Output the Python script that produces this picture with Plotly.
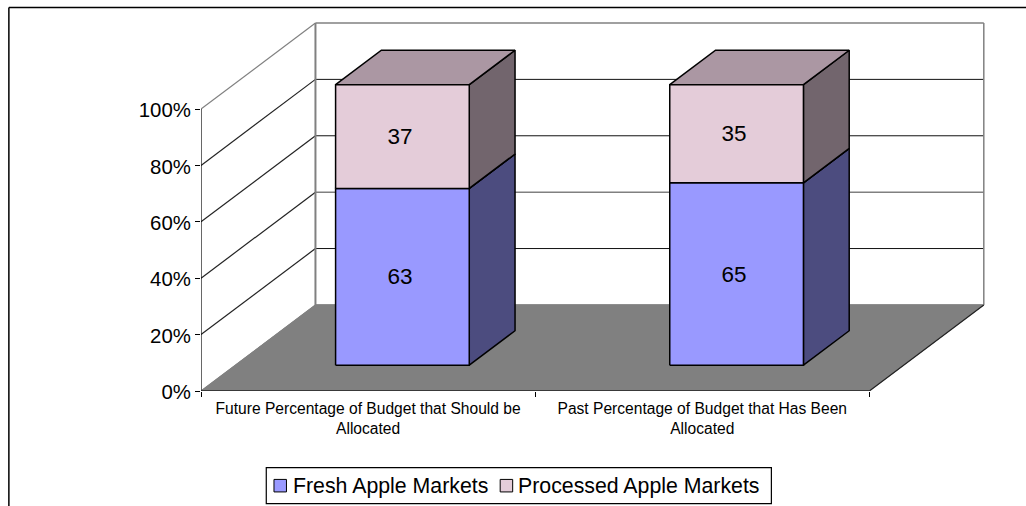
import plotly.graph_objects as go

categories = ["Future Percentage of Budget that Should be<br>Allocated",
              "Past Percentage of Budget that Has Been<br>Allocated"]
series_names = ["Fresh Apple Markets", "Processed Apple Markets"]
fresh = [63, 65]
processed = [37, 35]
y_ticks = [0, 20, 40, 60, 80, 100]
y_tick_labels = ["0%", "20%", "40%", "60%", "80%", "100%"]

W, H = 1026, 506
LEFT, RIGHT = 200.7, 990.0
BOTTOM, TOP = 390.7, 20.0
CAT_PX = 334.3
PCT_PX = 2.817
DEPTH_X = 114.5 / CAT_PX
DEPTH_Y = 86 / PCT_PX
BAR_START, BAR_END = 0.3, 0.7
BAR_SCALE = 0.995
pw, ph = RIGHT - LEFT, BOTTOM - TOP


def paper_x(p):
    return (p - LEFT) / pw


def paper_y(p):
    return (BOTTOM - p) / ph


def proj(cat, pct, depth):
    return cat + depth * DEPTH_X, pct + depth * DEPTH_Y


def poly(points, fill, line="black", width=1.5):
    xs, ys = zip(*[proj(*p) for p in points])
    closed = fill is not None
    return go.Scatter(
        x=list(xs) + ([xs[0]] if closed else []),
        y=list(ys) + ([ys[0]] if closed else []),
        mode="lines", fill="toself" if closed else None, fillcolor=fill,
        line=dict(color=line, width=width), showlegend=False, hoverinfo="skip",
    )


fig = go.Figure()
GRAY = "#808080"
n = len(categories)
# floor
fig.add_trace(poly([(0, 0, 0), (n, 0, 0), (n, 0, 1), (0, 0, 1)], GRAY, line=GRAY, width=1))
# walls and gridlines
for t in y_ticks:
    side_c = GRAY if t in (0, 100) else "#222222"
    back_c = GRAY if t in (0, 40, 100) else "#111111"
    back_w = 1.5 if t in (0, 40, 100) else 1
    fig.add_trace(poly([(0, t, 0), (0, t, 1)], None, line=side_c, width=1.2))
    fig.add_trace(poly([(0, t, 1), (n, t, 1)], None, line=back_c, width=back_w))
fig.add_trace(poly([(0, 0, 1), (0, 100, 1)], None, line=GRAY, width=2))
fig.add_trace(poly([(n, 0, 1), (n, 100, 1)], None, line=GRAY, width=1.5))
fig.add_trace(poly([(n, 0, 0), (n, 0, 1)], None, line="#222222", width=1.2))
# axes
fig.add_trace(poly([(0, 0, 0), (0, 100, 0)], None, line="black", width=1.2))
fig.add_trace(poly([(0, 0, 0), (n, 0, 0)], None, line="#222222", width=1.5))

styles = [
    dict(front="#9999FF", side="#4C4C7F", top="#4C4C7F"),
    dict(front="#E4CCD9", side="#72656D", top="#AB97A3"),
]
labels_x, labels_y, labels_t = [], [], []
for i in range(n):
    a = i + (1 - (BAR_END - BAR_START)) / 2
    b = a + (BAR_END - BAR_START)
    base = 0
    for vals, st in zip((fresh, processed), styles):
        v = vals[i]
        lo, hi = base * BAR_SCALE, (base + v) * BAR_SCALE
        fig.add_trace(poly([(b, lo, BAR_START), (b, lo, BAR_END), (b, hi, BAR_END), (b, hi, BAR_START)], st["side"]))
        fig.add_trace(poly([(a, hi, BAR_START), (b, hi, BAR_START), (b, hi, BAR_END), (a, hi, BAR_END)], st["top"]))
        fig.add_trace(poly([(a, lo, BAR_START), (b, lo, BAR_START), (b, hi, BAR_START), (a, hi, BAR_START)], st["front"]))
        x, y = proj((a + b) / 2, (lo + hi) / 2, BAR_START)
        labels_x.append(x - 2.5 / CAT_PX)
        labels_y.append(y - 2.0 / PCT_PX)
        labels_t.append(str(v))
        base += v

fig.add_trace(go.Scatter(x=labels_x, y=labels_y, text=labels_t, mode="text",
                         textfont=dict(family="Liberation Sans", size=22.5, color="black"),
                         showlegend=False, hoverinfo="skip"))

# legend (box, swatches and entries)
swatch_left = [273.7, 500]
SWATCH = 12.5
text_px = [292, 517]
LEG_Y = 485.3
annotations = [dict(x=paper_x(p), y=paper_y(LEG_Y), xref="paper", yref="paper", text=name,
                    showarrow=False, xanchor="left", yanchor="middle", borderpad=0,
                    font=dict(family="Liberation Sans", size=21.3, color="black"))
               for p, name in zip(text_px, series_names)]
swatches = [dict(type="rect", xref="paper", yref="paper",
                 x0=paper_x(p), x1=paper_x(p + SWATCH),
                 y0=paper_y(LEG_Y - SWATCH / 2), y1=paper_y(LEG_Y + SWATCH / 2),
                 line=dict(color="black", width=1), fillcolor=st["front"])
            for p, st in zip(swatch_left, styles)]

fig.update_layout(
    width=W, height=H, paper_bgcolor="white", plot_bgcolor="rgba(0,0,0,0)",
    margin=dict(l=LEFT, r=W - RIGHT, t=TOP, b=H - BOTTOM, pad=0, autoexpand=False),
    font=dict(family="Liberation Sans", color="black"),
    showlegend=False,
    annotations=annotations,
    xaxis=dict(range=[0, pw / CAT_PX], showgrid=False, zeroline=False, showline=False,
               tickvals=[0.5, 1.5], ticktext=categories, ticklen=0, ticks="",
               tickangle=0, tickfont=dict(size=15.6), ticklabelstandoff=6,
               minor=dict(tickmode="array", tickvals=[0, 1, 2], ticks="outside", ticklen=5,
                          tickcolor="black", tickwidth=1, showgrid=False)),
    yaxis=dict(range=[0, ph / PCT_PX], showgrid=False, zeroline=False, showline=False,
               tickvals=y_ticks, ticktext=y_tick_labels, ticks="outside", ticklen=5,
               tickcolor="black", tickwidth=1, tickfont=dict(size=20.4), ticklabelshift=1),
    shapes=[
        dict(type="line", xref="paper", yref="paper", x0=paper_x(8.5), x1=paper_x(1030),
             y0=paper_y(7.5), y1=paper_y(7.5), line=dict(color="black", width=1.5)),
        dict(type="line", xref="paper", yref="paper", x0=paper_x(8.5), x1=paper_x(8.5),
             y0=paper_y(7.5), y1=paper_y(520), line=dict(color="black", width=1.5)),
        dict(type="rect", xref="paper", yref="paper", x0=paper_x(266), x1=paper_x(771.3),
             y0=paper_y(467.3), y1=paper_y(503.3),
             line=dict(color="black", width=1.2), fillcolor="white", layer="below"),
    ] + swatches,
)
fig.write_html("out.html", config=dict(displayModeBar=False),
               post_script="document.body.style.margin='0';document.body.style.overflow='hidden';")
